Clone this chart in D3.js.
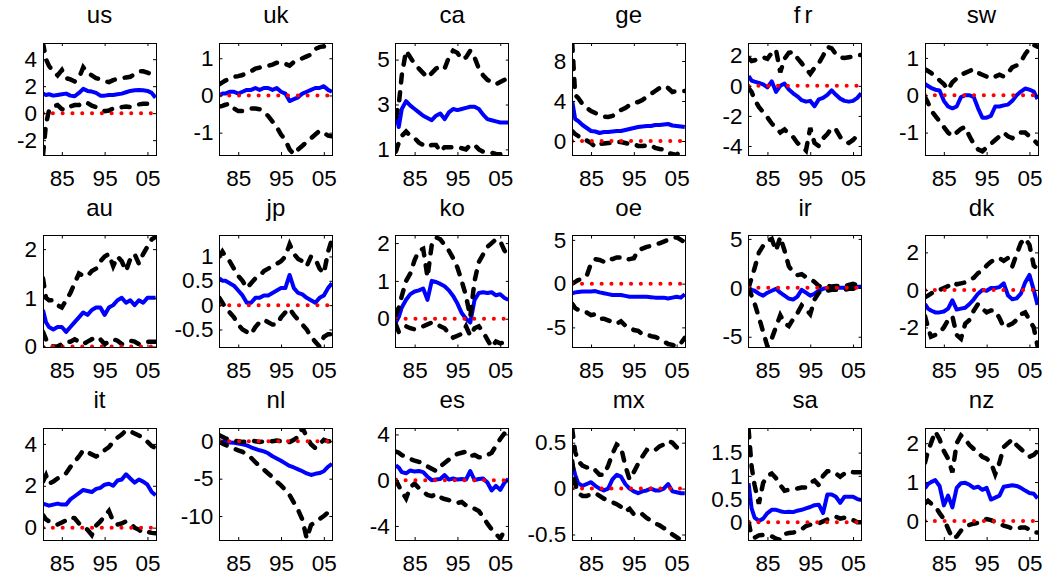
<!DOCTYPE html>
<html lang="en">
<head>
    <meta charset="UTF-8"/>
    <title>Country panels</title>
    <script src="https://d3js.org/d3.v7.min.js"></script>
    <style>
        body { margin: 0; background: #fff; }
        text { font-family: "Liberation Sans", Arial, sans-serif; fill: #000; }
        .tick line { stroke: #000; }
        .box { fill: none; stroke: #000; stroke-width: 1px; shape-rendering: crispEdges; }
        path.median { fill: none; stroke: #0000ff; stroke-width: 4px; stroke-linejoin: round; }
        path.band { fill: none; stroke: #000; stroke-width: 4.5px; stroke-dasharray: 8 10; stroke-linecap: round; }
        path.zero { fill: none; stroke: #ff0000; stroke-width: 4px; stroke-dasharray: 0.1 9.7; stroke-linecap: round; }
    </style>
</head>
<body>
<svg width="1046" height="581"></svg>
<script>

    // sample dates (years)
    const years = [1980.6, 1981.3, 1982, 1983, 1984, 1985, 1986, 1987, 1988, 1989, 1990,
        1991, 1992, 1993, 1994, 1995, 1996, 1997, 1998, 1999, 2000,
        2001, 2002, 2003, 2004, 2005, 2006, 2006.9];

    const countries = ["us", "uk", "ca", "ge", "fr", "sw",
        "au", "jp", "ko", "oe", "ir", "dk",
        "it", "nl", "es", "mx", "sa", "nz"];

    const upperBand = [
        [5.2,4.0,3.5,3.1,2.8,3.2,2.6,2.5,2.35,2.6,3.4,3.0,2.8,2.6,2.5,2.35,2.3,2.45,2.55,2.6,2.65,2.7,2.9,3.1,3.1,3.0,2.9,2.85],
        [0.3,0.35,0.4,0.45,0.5,0.52,0.55,0.6,0.65,0.72,0.75,0.78,0.8,0.83,0.88,0.9,0.85,0.8,0.9,0.95,1.0,1.05,1.1,1.25,1.3,1.32,1.3,1.28],
        [2.4,3.0,4.3,5.4,5.1,4.8,4.6,4.4,4.2,4.4,4.6,4.7,4.6,5.1,5.4,5.3,5.0,5.1,5.4,5.1,4.6,4.3,4.1,4.0,3.9,4.0,4.1,4.2],
        [9.8,4.6,4.3,3.7,3.3,3.0,2.8,2.6,2.45,2.4,2.5,2.8,3.1,3.3,3.6,3.8,3.9,4.1,4.4,4.7,5.0,5.3,5.5,5.3,4.9,5.0,5.0,5.0],
        [1.85,1.65,1.7,1.85,1.9,1.8,2.2,2.4,0.9,1.8,2.2,2.25,1.85,1.5,1.15,0.8,1.2,1.5,2.0,2.6,2.5,2.1,1.9,1.85,1.9,1.95,2.05,2.05],
        [0.7,0.65,0.6,0.5,0.4,0.3,0.15,0.35,0.45,0.55,0.6,0.65,0.7,0.6,0.55,0.5,0.45,0.5,0.55,0.5,0.6,0.75,0.8,0.9,1.1,1.25,1.35,1.3],
        [1.4,1.0,0.95,0.95,0.85,0.8,0.95,1.1,1.3,1.5,1.45,1.45,1.55,1.6,1.75,1.85,1.9,1.65,1.85,1.75,1.55,1.8,1.9,1.7,1.9,2.05,2.2,2.25],
        [1.0,1.1,1.0,0.9,0.75,0.6,0.5,0.35,0.45,0.55,0.6,0.7,0.75,0.8,0.85,0.9,1.0,1.25,1.05,0.95,0.9,0.8,1.0,0.95,0.75,0.65,1.1,1.35],
        [0.1,0.3,0.6,1.0,1.2,1.55,1.8,1.85,1.1,1.95,2.15,2.1,1.95,1.8,1.6,1.35,1.0,0.6,0.05,1.0,1.5,1.7,1.9,2.0,2.1,2.05,1.8,1.65],
        [0.0,0.2,0.4,0.6,0.9,2.3,2.8,2.7,2.5,2.9,2.8,3.0,3.0,2.7,2.8,2.9,3.8,4.0,4.2,4.3,4.5,4.6,4.8,5.0,5.2,5.3,5.0,4.7],
        [0.0,1.0,2.0,3.6,4.3,4.8,5.0,3.8,5.2,3.8,2.2,1.6,1.3,1.4,1.1,0.9,0.6,0.2,0.1,0.2,0.15,0.2,0.2,0.15,0.3,0.4,0.3,0.3],
        [-0.4,-0.3,-0.2,-0.05,0.0,0.1,0.2,0.4,0.3,0.35,0.4,0.5,0.65,0.9,1.0,1.3,1.5,1.65,1.7,1.55,1.7,1.25,1.9,2.5,2.75,2.4,1.3,1.1],
        [2.2,2.5,2.1,2.2,2.35,2.45,2.6,2.9,3.15,3.4,3.7,3.6,3.5,3.4,3.5,3.7,3.85,4.1,4.3,4.45,4.65,4.6,4.5,4.4,4.3,4.1,3.9,3.8],
        [0.8,0.6,0.4,0.2,0.1,0.0,-0.1,0.0,0.1,0.0,-0.1,0.0,0.1,0.0,0.1,0.0,-0.2,-0.1,0.2,0.6,1.8,0.6,-0.4,-0.9,-0.4,0.2,0.0,0.0],
        [2.5,2.4,2.2,2.0,1.85,1.7,1.6,1.5,1.2,1.0,0.8,1.2,1.5,1.8,2.1,2.3,2.4,2.5,2.1,2.2,2.0,2.0,2.2,2.4,3.0,3.6,4.1,4.4],
        [0.65,0.4,0.3,0.25,0.23,0.24,0.2,0.15,0.15,0.25,0.38,0.48,0.45,0.25,0.1,0.18,0.27,0.35,0.42,0.4,0.42,0.46,0.48,0.52,0.5,0.45,0.43,0.42],
        [2.0,1.2,0.8,0.4,0.85,1.0,1.05,0.95,0.8,0.68,0.7,0.72,0.73,0.75,0.75,0.85,0.9,0.8,1.0,1.1,1.1,1.05,0.98,1.05,1.1,1.08,1.08,1.08],
        [1.5,1.8,2.0,2.3,2.1,1.8,1.6,1.25,2.0,2.2,2.1,1.95,1.85,1.75,1.65,1.6,1.5,1.2,1.5,1.9,2.0,2.1,1.95,1.85,1.75,1.65,1.7,1.8]
    ];

    const medianLine = [
        [1.45,1.35,1.4,1.3,1.35,1.4,1.45,1.3,1.25,1.5,1.8,1.65,1.6,1.5,1.3,1.3,1.35,1.35,1.4,1.45,1.55,1.65,1.7,1.72,1.7,1.65,1.5,1.15],
        [0.0,0.05,0.05,0.1,0.1,0.05,0.1,0.15,0.15,0.2,0.15,0.2,0.2,0.15,0.2,0.1,0.05,-0.15,-0.1,-0.05,0.05,0.1,0.15,0.2,0.2,0.25,0.15,0.1],
        [2.6,2.0,2.8,3.15,2.95,2.8,2.65,2.5,2.4,2.3,2.5,2.6,2.35,2.65,2.8,2.75,2.8,2.85,2.9,2.9,2.8,2.55,2.35,2.3,2.25,2.2,2.2,2.2],
        [4.0,2.2,2.0,1.6,1.3,1.0,0.95,0.8,0.9,0.9,0.95,1.0,1.0,1.1,1.2,1.3,1.4,1.45,1.5,1.5,1.6,1.6,1.65,1.7,1.55,1.5,1.45,1.4],
        [0.65,0.35,0.28,0.2,0.1,-0.1,0.3,-0.4,0.0,0.15,-0.25,-0.5,-0.7,-0.95,-1.05,-1.0,-1.35,-0.9,-0.8,-0.6,-0.3,-0.6,-0.85,-1.0,-1.05,-1.0,-0.8,-0.5],
        [0.3,0.25,0.2,0.15,0.13,-0.15,-0.3,-0.35,-0.3,-0.05,0.0,0.0,-0.05,-0.35,-0.6,-0.6,-0.55,-0.3,-0.3,-0.27,-0.25,-0.15,0.0,0.1,0.18,0.15,0.1,-0.1],
        [0.75,0.5,0.4,0.35,0.4,0.4,0.3,0.4,0.5,0.6,0.7,0.65,0.75,0.8,0.8,0.65,0.8,0.85,0.95,1.0,0.9,0.95,0.85,0.95,0.9,1.0,1.0,1.0],
        [0.55,0.5,0.5,0.45,0.4,0.3,0.2,0.05,0.05,0.15,0.15,0.2,0.2,0.25,0.3,0.35,0.35,0.62,0.35,0.25,0.22,0.15,0.1,0.05,0.15,0.2,0.35,0.45],
        [-0.1,0.05,0.3,0.5,0.65,0.72,0.75,0.8,0.5,1.0,0.97,0.92,0.86,0.75,0.6,0.4,0.15,0.0,-0.1,0.5,0.68,0.7,0.68,0.7,0.62,0.65,0.55,0.5],
        [-1.1,-1.0,-0.95,-0.9,-0.9,-0.9,-0.85,-1.0,-1.1,-1.2,-1.3,-1.3,-1.3,-1.4,-1.5,-1.5,-1.5,-1.5,-1.5,-1.55,-1.6,-1.6,-1.6,-1.7,-1.6,-1.5,-1.6,-1.2],
        [0.0,-0.2,-0.3,-0.6,-0.8,-0.5,-0.3,-0.1,-0.5,-0.8,-1.1,-1.2,-0.9,-0.2,-0.5,-0.8,-0.6,-0.3,-0.1,0.0,0.0,0.0,0.0,0.0,0.05,0.05,0.1,0.1],
        [-0.75,-1.0,-1.1,-1.2,-1.2,-1.15,-1.0,-0.55,-1.05,-1.0,-0.95,-0.75,-0.5,-0.2,0.0,-0.05,0.1,0.1,0.15,0.35,-0.3,-0.5,-0.45,-0.2,0.4,0.8,0.0,-0.8],
        [1.15,1.1,1.05,1.1,1.15,1.1,1.1,1.35,1.5,1.65,1.8,1.75,1.7,1.85,1.9,2.05,2.1,2.0,2.25,2.3,2.55,2.35,2.15,2.3,2.2,2.05,1.7,1.55],
        [0.0,-0.05,-0.1,-0.15,-0.2,-0.3,-0.4,-0.55,-0.8,-1.0,-1.2,-1.35,-1.6,-2.0,-2.3,-2.6,-2.95,-3.3,-3.5,-3.75,-4.0,-4.3,-4.5,-4.35,-4.25,-4.0,-3.4,-3.0],
        [1.3,1.1,0.7,0.6,0.85,0.75,0.8,0.7,0.3,0.0,0.05,0.1,0.45,0.05,0.15,0.05,0.1,0.05,0.8,0.0,0.1,0.15,-0.2,-0.9,-0.5,-0.85,-0.2,0.1],
        [0.27,0.15,0.06,0.03,0.05,0.07,0.03,0.0,-0.02,0.0,0.1,0.15,0.13,0.05,0.0,-0.03,-0.05,-0.03,-0.02,0.0,-0.02,-0.02,0.0,0.05,-0.03,-0.04,-0.05,-0.05],
        [0.84,0.3,0.1,0.03,0.08,0.2,0.27,0.27,0.24,0.22,0.23,0.22,0.25,0.27,0.3,0.33,0.37,0.38,0.2,0.6,0.6,0.55,0.42,0.55,0.55,0.55,0.5,0.48],
        [0.84,0.95,1.0,1.05,0.9,0.4,0.65,0.35,0.85,0.97,0.98,0.93,0.85,0.88,0.8,0.85,0.55,0.6,0.65,0.88,0.9,0.92,0.9,0.85,0.78,0.72,0.7,0.58]
    ];

    const lowerBand = [
        [-3.1,-0.8,0.2,0.5,0.6,0.3,0.25,0.5,0.6,0.6,0.8,0.75,0.55,0.45,0.3,0.15,0.2,0.35,0.35,0.45,0.5,0.45,0.55,0.65,0.7,0.7,0.65,0.6],
        [-0.3,-0.28,-0.25,-0.22,-0.35,-0.42,-0.42,-0.38,-0.35,-0.35,-0.37,-0.45,-0.55,-0.7,-0.85,-1.05,-1.2,-1.45,-1.58,-1.45,-1.35,-1.25,-1.15,-1.05,-0.95,-1.0,-1.08,-1.1],
        [0.9,1.3,1.6,1.8,1.6,1.5,1.3,1.2,1.1,1.2,1.2,0.9,1.1,1.1,1.1,1.1,1.05,1.0,1.2,1.2,1.0,0.9,0.9,0.85,0.8,0.78,0.78,0.78],
        [1.0,0.7,0.5,0.1,0.05,-0.2,-0.6,-0.3,-0.25,-0.2,-0.2,-0.1,-0.1,-0.2,-0.3,-0.3,-0.5,-0.5,-0.45,-0.4,-0.7,-0.8,-0.85,-1.2,-1.3,-1.4,-0.9,-0.7],
        [-0.15,-0.4,-0.9,-1.4,-1.75,-2.1,-2.5,-2.8,-3.1,-2.9,-3.2,-3.4,-3.8,-4.0,-4.3,-2.8,-3.8,-4.0,-3.5,-3.2,-2.8,-2.9,-3.4,-3.7,-3.8,-3.6,-3.3,-3.2],
        [-0.05,-0.2,-0.4,-0.55,-0.7,-0.85,-1.0,-1.1,-1.0,-0.9,-0.85,-1.1,-1.3,-1.45,-1.5,-1.4,-1.3,-1.2,-1.1,-1.0,-1.1,-1.15,-1.05,-1.0,-1.0,-1.1,-1.2,-1.3],
        [0.3,0.15,0.05,0.0,0.0,0.05,0.1,0.1,0.15,0.1,0.05,0.1,0.15,0.2,0.15,0.05,0.1,0.15,0.12,0.05,0.08,0.12,0.1,0.05,0.07,0.1,0.1,0.1],
        [0.15,0.05,-0.05,-0.15,-0.25,-0.4,-0.5,-0.55,-0.6,-0.45,-0.35,-0.3,-0.35,-0.4,-0.4,-0.25,-0.15,-0.07,-0.2,-0.3,-0.4,-0.5,-0.65,-0.75,-0.85,-0.65,-0.6,-0.6],
        [-0.15,-0.35,-0.25,-0.2,-0.25,-0.28,-0.25,-0.2,-0.15,-0.1,-0.12,-0.2,-0.25,-0.4,-0.5,-0.45,-0.4,-0.2,-0.45,-0.25,-0.2,-0.35,-0.55,-0.75,-0.6,-0.65,-0.62,-0.6],
        [-2.3,-2.8,-3.0,-3.3,-3.3,-3.6,-3.5,-4.0,-4.0,-4.2,-4.4,-4.6,-4.3,-4.8,-5.0,-5.3,-5.4,-5.8,-5.8,-6.0,-6.1,-6.3,-6.6,-6.9,-7.0,-7.2,-6.8,-6.2],
        [0.0,-0.8,-1.6,-3.0,-4.5,-6.0,-5.2,-4.0,-2.8,-3.6,-3.9,-3.2,-2.6,-1.8,-2.2,-2.7,-1.2,-0.5,-0.2,-0.3,-0.2,-0.2,-0.2,-0.2,-0.1,-0.1,0.0,0.0],
        [-1.4,-2.0,-2.5,-2.4,-2.3,-2.0,-1.6,-1.4,-2.4,-2.6,-1.8,-1.6,-1.1,-0.75,-1.0,-1.2,-1.1,-1.1,-1.5,-2.0,-1.9,-1.8,-1.6,-1.3,-1.2,-1.6,-2.0,-3.0],
        [0.6,0.4,0.3,0.25,0.15,0.25,0.35,0.5,0.45,0.2,0.05,-0.1,-0.35,0.1,0.3,0.55,0.8,0.3,0.15,0.2,0.3,0.2,0.0,-0.1,-0.25,-0.2,-0.25,-0.27],
        [-0.1,-0.3,-0.5,-0.7,-1.0,-1.2,-1.4,-1.8,-2.2,-2.8,-3.3,-3.8,-4.3,-4.8,-5.4,-5.9,-6.5,-7.2,-8.2,-9.2,-10.5,-13.0,-11.2,-10.8,-10.4,-10.0,-9.5,-9.0],
        [0.0,-0.5,-1.0,-1.6,-0.6,-0.3,-0.7,-1.0,-1.3,-1.4,-1.2,-1.5,-1.65,-1.75,-1.9,-2.0,-1.9,-2.2,-2.4,-2.5,-2.7,-3.2,-3.8,-4.3,-4.7,-5.1,-4.4,-4.2],
        [0.3,0.05,-0.05,-0.08,-0.08,-0.06,-0.05,-0.08,-0.11,-0.13,-0.15,-0.17,-0.2,-0.25,-0.22,-0.28,-0.3,-0.28,-0.32,-0.35,-0.38,-0.4,-0.43,-0.46,-0.5,-0.53,-0.56,-0.5],
        [0.0,-0.3,-0.33,-0.28,-0.27,-0.27,-0.3,-0.35,-0.38,-0.25,-0.23,-0.22,-0.2,-0.15,-0.08,-0.05,-0.02,-0.02,0.02,0.06,0.1,0.12,0.08,0.1,0.1,0.05,0.0,0.0],
        [0.45,0.52,0.45,0.38,0.2,0.05,-0.2,-0.45,-0.4,-0.25,-0.15,-0.1,-0.07,-0.05,0.03,0.05,0.02,-0.02,-0.08,-0.12,-0.15,-0.2,-0.2,-0.17,-0.17,-0.22,-0.3,-0.3]
    ];

    // y axis limits and ticks per panel
    const yLimits = [
        [-3.1, 5.2], [-1.6, 1.41], [0.75, 5.74], [-1.4, 9.8], [-4.6, 2.85], [-1.6, 1.4],
        [-0.02, 2.28], [-0.87, 1.43], [-0.76, 2.2], [-7.3, 5.5], [-6.1, 5.35], [-3.07, 2.9],
        [-0.59, 4.76], [-13.2, 1.78], [-5.23, 4.56], [-0.56, 0.66], [-0.38, 2.03], [-0.49, 2.39]
    ];
    const yTicks = [
        [-2, 0, 2, 4], [-1, 0, 1], [1, 3, 5], [0, 4, 8], [-4, -2, 0, 2], [-1, 0, 1],
        [0, 1, 2], [-0.5, 0, 0.5, 1], [0, 1, 2], [-5, 0, 5], [-5, 0, 5], [-2, 0, 2],
        [0, 2, 4], [-10, -5, 0], [-4, 0, 4], [-0.5, 0, 0.5], [0, 0.5, 1, 1.5], [0, 1, 2]
    ];

    const xLimits = [1980.6, 2007];
    const xTicks = [1985, 1995, 2005];
    const xTickLabels = ["85", "95", "05"];

    let svg = d3.select("svg");

    const panelW = 113, panelH = 112;
    const colLeft = d3.scaleLinear().domain([0, 5]).range([43, 925]);
    const rowTop = d3.scaleLinear().domain([0, 2]).range([43, 428]);

    countries.forEach(function(name, i) {
        let col = i % 6, row = Math.floor(i / 6);
        let g = svg.append("g")
            .attr("transform", "translate(" + colLeft(col) + "," + rowTop(row) + ")");

        let x = d3.scaleLinear().domain(xLimits).range([0, panelW]);
        let y = d3.scaleLinear().domain(yLimits[i]).range([panelH, 0]);

        g.append("clipPath").attr("id", "clip" + i)
            .append("rect").attr("width", panelW).attr("height", panelH);

        let plot = g.append("g").attr("clip-path", "url(#clip" + i + ")");

        let line = d3.line()
            .x(function(d, k) { return x(years[k]); })
            .y(function(d) { return y(d); });

        plot.append("path").attr("class", "median").attr("d", line(medianLine[i]));
        plot.append("path").attr("class", "band").attr("d", line(upperBand[i]));
        plot.append("path").attr("class", "band").attr("d", line(lowerBand[i]));

        plot.append("path").attr("class", "zero")
            .attr("d", d3.line()
                .x(function(d) { return x(d); })
                .y(function() { return y(0); })(xLimits));

        // axes: ticks inside, labels left and bottom only
        let fmt = function(d) { return String(d); };

        let bottom = g.append("g").attr("transform", "translate(0," + panelH + ")")
            .call(d3.axisBottom(x).tickValues(xTicks)
                .tickFormat(function(d, k) { return xTickLabels[k]; })
                .tickSizeInner(-3).tickSizeOuter(0).tickPadding(15));
        let left = g.append("g")
            .call(d3.axisLeft(y).tickValues(yTicks[i]).tickFormat(fmt)
                .tickSizeInner(-3).tickSizeOuter(0).tickPadding(6));
        let top = g.append("g")
            .call(d3.axisTop(x).tickValues(xTicks).tickFormat("")
                .tickSizeInner(-3).tickSizeOuter(0));
        let right = g.append("g").attr("transform", "translate(" + panelW + ",0)")
            .call(d3.axisRight(y).tickValues(yTicks[i]).tickFormat("")
                .tickSizeInner(-3).tickSizeOuter(0));

        [bottom, left, top, right].forEach(function(a) {
            a.select(".domain").remove();
            a.attr("font-size", null).attr("font-family", null);
            a.selectAll("text").attr("font-size", 22.5);
        });

        g.append("rect").attr("class", "box").attr("width", panelW).attr("height", panelH);

        g.append("text")
            .attr("x", panelW / 2)
            .attr("y", -20)
            .attr("text-anchor", "middle")
            .attr("font-size", 24)
            .attr("letter-spacing", name === "fr" ? 4 : null)
            .text(name);
    });

</script>
</body>
</html>
